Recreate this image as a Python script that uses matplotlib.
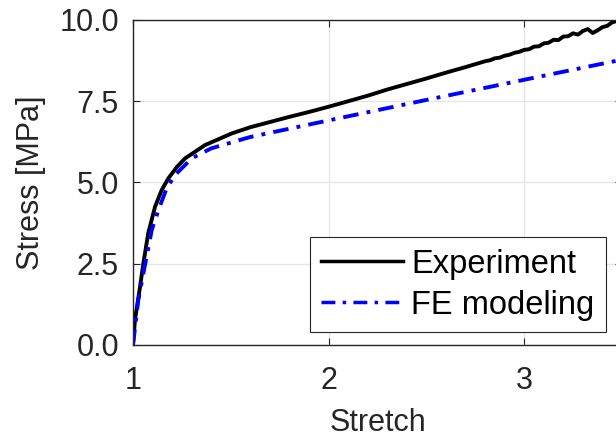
import matplotlib
matplotlib.use("Agg")
import matplotlib.pyplot as plt

plt.rcParams["font.family"] = "sans-serif"
plt.rcParams["font.sans-serif"] = ["Liberation Sans", "DejaVu Sans"]

INK = "#262626"

# uniaxial tension: measured curve
exp_stretch = [1.000, 1.010, 1.036, 1.053, 1.078, 1.113, 1.147, 1.181, 1.225, 1.266,
               1.368, 1.505, 1.600, 1.700, 1.800, 1.900, 2.000, 2.100, 2.200, 2.300,
               2.400, 2.500, 2.600, 2.700, 2.800, 2.825, 2.850, 2.875, 2.900, 2.925,
               2.950, 2.975, 3.000, 3.025, 3.050, 3.075, 3.100, 3.125, 3.150, 3.175,
               3.200, 3.225, 3.250, 3.275, 3.300, 3.325, 3.350, 3.375, 3.400, 3.425,
               3.450, 3.475, 3.500]
exp_stress = [0.00, 0.77, 1.79, 2.51, 3.44, 4.26, 4.77, 5.13, 5.48, 5.74,
              6.15, 6.51, 6.70, 6.86, 7.02, 7.17, 7.33, 7.50, 7.67, 7.86,
              8.03, 8.20, 8.38, 8.55, 8.73, 8.76, 8.82, 8.84, 8.90, 8.93,
              8.99, 9.02, 9.08, 9.10, 9.18, 9.19, 9.28, 9.30, 9.39, 9.38,
              9.49, 9.50, 9.59, 9.55, 9.66, 9.72, 9.60, 9.68, 9.78, 9.82,
              9.93, 9.97, 10.02]

# finite element prediction
fe_stretch = [1.000, 1.027, 1.053, 1.096, 1.130, 1.172, 1.215, 1.300, 1.400, 1.520,
              1.600, 2.000, 2.500, 3.000, 3.500]
fe_stress = [0.00, 1.38, 2.20, 3.54, 4.15, 4.82, 5.23, 5.74, 6.05, 6.26,
             6.40, 6.91, 7.54, 8.16, 8.78]

fig = plt.figure(figsize=(6.16, 4.42), dpi=100)
ax = fig.add_axes([0.2159, 0.2195, 0.7938, 0.7353])

ax.plot(exp_stretch, exp_stress, color="black", lw=2.8, label="Experiment",
        solid_joinstyle="round")
ax.plot(fe_stretch, fe_stress, color="#0000ff", lw=2.8, label="FE modeling",
        linestyle=(0, (4.0, 2.1, 1.0, 2.1)), dash_capstyle="butt")

ax.set_xlim(1, 3.5)
ax.set_ylim(0, 10)
ax.set_xticks([1, 2, 3])
ax.set_yticks([0, 2.5, 5, 7.5, 10])
ax.set_yticklabels(["0.0", "2.5", "5.0", "7.5", "10.0"])
ax.grid(True, color="#e6e6e6", lw=1)
ax.set_axisbelow(True)

ax.tick_params(direction="in", length=5, width=0.8, colors=INK, labelsize=22,
               top=True, right=True)
ax.tick_params(axis="x", pad=15)
ax.tick_params(axis="y", pad=10)
for s in ax.spines.values():
    s.set_color(INK)
    s.set_linewidth(1)

ax.set_xlabel("Stretch", fontsize=22, color=INK, labelpad=9)
ax.set_ylabel("Stress [MPa]", fontsize=22, color=INK, labelpad=10)

leg = ax.legend(loc="lower right", bbox_to_anchor=(0.9838, 0.2489),
                bbox_transform=fig.transFigure, fontsize=23.5, frameon=True,
                fancybox=False, framealpha=1, edgecolor=INK, handlelength=2.5,
                handletextpad=0.26, borderpad=0.35, labelspacing=0.3,
                borderaxespad=0)
leg.get_frame().set_linewidth(0.8)
for h in leg.get_lines():
    h.set_linewidth(2.5)

fig.savefig("out.png", dpi=100, facecolor="white")
